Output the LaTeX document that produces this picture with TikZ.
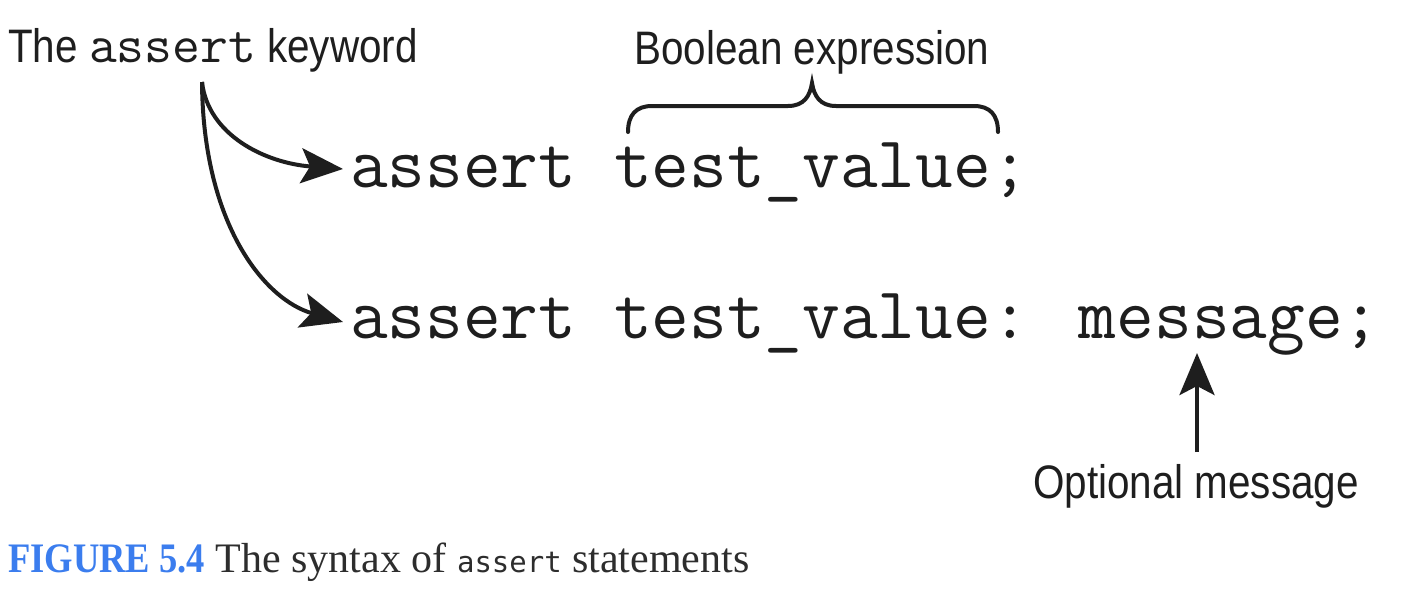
\documentclass[tikz,border=0pt]{standalone}
\usepackage{fontspec}
\usetikzlibrary{arrows.meta}
\newfontfamily\labelsans{Liberation Sans}[FakeStretch=0.86]
\newfontfamily\codemono{Latin Modern Mono}
\newfontfamily\capserif{Liberation Serif}
\newfontfamily\capbold{Liberation Serif}[FakeStretch=0.87]
\newfontfamily\capmono{DejaVu Sans Mono}
\definecolor{capblue}{RGB}{59,125,238}
\definecolor{capgray}{RGB}{45,45,45}
\definecolor{ink}{RGB}{30,30,30}
\tikzset{
  lbl/.style={inner sep=0pt, anchor=base, text=ink, font=\labelsans\fontsize{47}{50}\selectfont},
  code/.style={inner sep=0pt, anchor=base west, text=ink, font=\codemono\fontsize{73.2}{76}\selectfont},
  conn/.style={draw=ink, line width=4pt, -{Stealth[length=42pt,width=35pt,inset=9pt]}},
  brace/.style={draw=ink, line width=4pt, line cap=round}
}
\begin{document}
\begin{tikzpicture}[x=1pt,y=-1pt]
\path[use as bounding box] (0,0) rectangle (1402,594);
% labels
\node[lbl, anchor=base west] (kw) at (8,63) {The {\codemono\fontsize{54}{57}\selectfont assert} keyword};
\node[lbl] (bool) at (812,64) {Boolean expression};
\node[lbl] (opt) at (1196,498) {Optional message};
% code lines
\node[code] (c1) at (350,187) {assert test\_value;};
\node[code] (c2) at (350,338) {assert test\_value: message;};
% connector anchors
\coordinate (kwfoot) at (202,82);
\coordinate (t1) at (343,169);
\coordinate (t2) at (343,322);
\coordinate (msg) at (1197,353);
\coordinate (optfoot) at (1197,452);
% arrows
\draw[conn] (kwfoot) .. controls (208,135) and (265,163) .. (t1);
\draw[conn] (kwfoot) .. controls (203,225) and (265,300) .. (t2);
\draw[conn] (optfoot) -- (msg);
% brace
\draw[brace] (628,132) .. controls (628,115) and (636,106) .. (652,106) -- (788,106)
  .. controls (804,106) and (810,96) .. (812,83)
  .. controls (814,96) and (820,106) .. (836,106) -- (974,106)
  .. controls (990,106) and (998,115) .. (998,132);
% caption
\node[inner sep=0pt, anchor=base west] (cap) at (8,572)
  {\fontsize{42}{46}\selectfont{\capbold\bfseries\color{capblue}FIGURE 5.4}\hspace{0.25em}{\capserif\color{capgray}The syntax of {\capmono\fontsize{29}{32}\selectfont assert} statements}};
\end{tikzpicture}
\end{document}
